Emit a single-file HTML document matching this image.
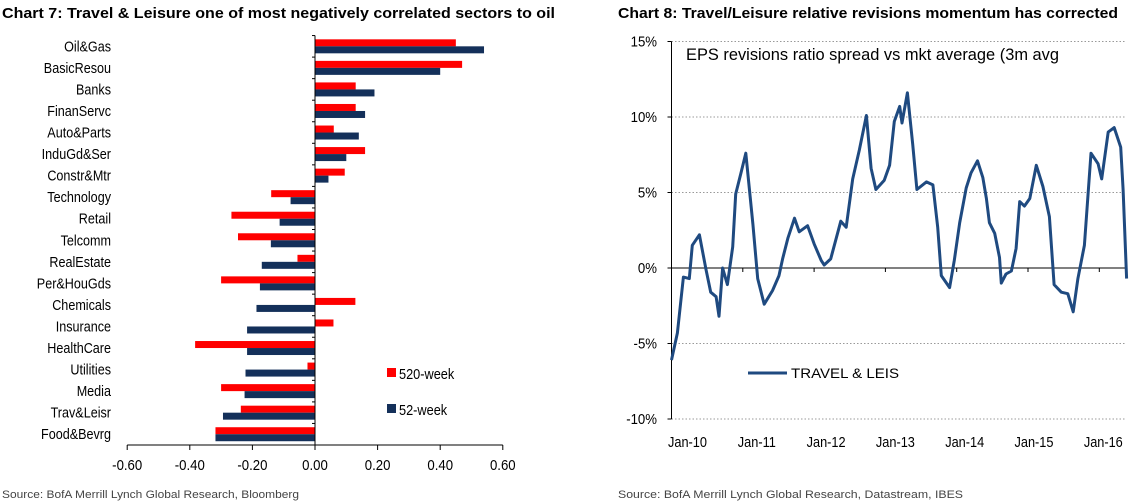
<!DOCTYPE html>
<html><head><meta charset="utf-8"><style>
html,body{margin:0;padding:0;background:#fff;width:1132px;height:503px;overflow:hidden}
svg{display:block;font-family:"Liberation Sans",Arial,sans-serif}
</style></head><body>
<svg id="s" width="1132" height="503" viewBox="0 0 1132 503">
<text x="2" y="18" font-size="15" font-weight="bold" textLength="553" lengthAdjust="spacingAndGlyphs">Chart 7: Travel &amp; Leisure one of most negatively correlated sectors to oil</text>
<text x="618" y="18" font-size="15" font-weight="bold" textLength="500" lengthAdjust="spacingAndGlyphs">Chart 8: Travel/Leisure relative revisions momentum has corrected</text>
<text x="2" y="498" font-size="11" fill="#444" textLength="297" lengthAdjust="spacingAndGlyphs">Source: BofA Merrill Lynch Global Research, Bloomberg</text>
<text x="618" y="498" font-size="11" fill="#444" textLength="345" lengthAdjust="spacingAndGlyphs">Source: BofA Merrill Lynch Global Research, Datastream, IBES</text>
<g id="left"></g>
<g id="right"></g>
</svg>
<script>
const categories=["Oil&Gas","BasicResou","Banks","FinanServc","Auto&Parts","InduGd&Ser","Constr&Mtr","Technology","Retail","Telcomm","RealEstate","Per&HouGds","Chemicals","Insurance","HealthCare","Utilities","Media","Trav&Leisr","Food&Bevrg"];
const week520=[0.45,0.47,0.13,0.13,0.06,0.16,0.095,-0.14,-0.267,-0.246,-0.056,-0.30,0.129,0.059,-0.383,-0.024,-0.30,-0.237,-0.318];
const week52=[0.54,0.40,0.19,0.16,0.14,0.10,0.043,-0.078,-0.113,-0.141,-0.17,-0.176,-0.187,-0.217,-0.217,-0.222,-0.225,-0.294,-0.318];
const xTicks=[-0.6,-0.4,-0.2,0,0.2,0.4,0.6];
const monthIdx=[0,1,2,3,3.5,4.7,5.8,6.6,7.5,8,8.6,9.4,10.3,10.8,11.7,12.5,13.7,14.5,15.6,17,18.1,18.7,19.6,20.7,21.5,22.9,24,25.2,25.7,26.8,28.5,29.4,30.5,31.6,32.8,33.6,34.4,35.8,36.7,37.5,38.4,38.8,39.7,40.6,41.3,42.9,44,44.8,45.4,46.8,47.6,48.5,49.6,50.4,51.5,52.4,53,53.5,54.4,55.2,55.5,56.3,57.2,58,58.6,59.4,60.3,61.4,62.5,63.6,64.4,65.6,66.7,67.6,68.4,69.5,70.6,71.8,72.4,73.5,74.5,75.6,76,76.6];
const travelLeis=[-6.1,-4.3,-0.6,-0.7,1.5,2.2,-0.1,-1.6,-1.9,-3.2,0,-1.1,1.4,4.9,6.3,7.6,2.9,-0.7,-2.4,-1.5,-0.5,0.6,2.0,3.3,2.4,2.8,1.6,0.5,0.2,0.6,3.1,2.7,5.9,7.8,10.1,6.6,5.2,5.8,6.8,9.7,10.7,9.6,11.6,8.2,5.2,5.7,5.5,2.7,-0.5,-1.3,0.5,3.0,5.3,6.3,7.1,6.0,4.6,3.0,2.3,0.7,-1.0,-0.4,-0.2,1.3,4.4,4.1,4.6,6.8,5.4,3.4,-1.1,-1.6,-1.7,-2.9,-0.7,1.5,7.6,6.9,5.9,9.0,9.3,8.0,5.2,-0.7];
const yTicks=[15,10,5,0,-5,-10];
const yearLabels=["Jan-10","Jan-11","Jan-12","Jan-13","Jan-14","Jan-15","Jan-16"];
const NS="http://www.w3.org/2000/svg";
function mk(p,t,a,txt){const e=document.createElementNS(NS,t);for(const k in a)e.setAttribute(k,a[k]);if(txt!=null)e.textContent=txt;p.appendChild(e);return e;}
function ntext(p,x,y,anchor,size,sx,txt){const g=mk(p,'g',{transform:`translate(${x},${y}) scale(${sx},1)`});return mk(g,'text',{x:0,y:0,'font-size':size,'text-anchor':anchor},txt);}
// left chart
const L=document.getElementById('left');
const x0=315,unit=313,band=21.55,axisY=445,plotTop=axisY-categories.length*band;
const xs=v=>x0+v*unit;
categories.forEach((c,i)=>{
 const cy=plotTop+band*(i+0.5);
 const t=ntext(L,111,cy+5,'end',15,0.84,c);
 
 
 const v1=week520[i],v2=week52[i];
 const r=mk(L,'rect',{x:Math.min(xs(0),xs(v1)),y:cy-7,width:Math.abs(xs(v1)-xs(0)),height:7,fill:'#ff0000'});
 
 
 const b=mk(L,'rect',{x:Math.min(xs(0),xs(v2)),y:cy,width:Math.abs(xs(v2)-xs(0)),height:7,fill:'#14305a'});
 
 
 mk(L,'line',{x1:x0-3,x2:x0,y1:plotTop+band*i,y2:plotTop+band*i,stroke:'#000'});
});
mk(L,'line',{x1:x0,x2:x0,y1:plotTop,y2:axisY,stroke:'#000'});
mk(L,'line',{x1:xs(-0.6),x2:xs(0.6),y1:axisY,y2:axisY,stroke:'#000'});
xTicks.forEach(v=>{
 mk(L,'line',{x1:xs(v),x2:xs(v),y1:axisY,y2:axisY+5,stroke:'#000'});
 const t=ntext(L,xs(v),axisY+25,'middle',15,0.88,v.toFixed(2));
 
 
});
const lg1=mk(L,'rect',{x:387,y:368,width:9,height:9,fill:'#ff0000'});


const lt1=ntext(L,399,379,'start',15,0.85,'520-week');


const lg2=mk(L,'rect',{x:387,y:404,width:9,height:9,fill:'#14305a'});


const lt2=ntext(L,399,415,'start',15,0.85,'52-week');


// right chart
const R=document.getElementById('right');
const px0=671.5,pxEnd=1125,perMonth=71.3/12,zeroY=268,perPct=15.1;
const rx=m=>px0+m*perMonth, ry=v=>zeroY-v*perPct;
yTicks.forEach(v=>{
 if(v!==0)mk(R,'line',{x1:px0,x2:pxEnd,y1:ry(v),y2:ry(v),stroke:'#999','stroke-dasharray':'1.5,2'});
 mk(R,'line',{x1:px0-4,x2:px0,y1:ry(v),y2:ry(v),stroke:'#000'});
 const t=ntext(R,657,ry(v)+5,'end',15,0.88,v+'%');
 
 
});
mk(R,'line',{x1:px0,x2:px0,y1:ry(15),y2:ry(-10),stroke:'#000'});
mk(R,'line',{x1:px0,x2:pxEnd,y1:zeroY,y2:zeroY,stroke:'#000'});
yearLabels.forEach((l,i)=>{
 const x=rx(i*12);
 if(i>0)mk(R,'line',{x1:x,x2:x,y1:zeroY,y2:zeroY+4,stroke:'#000'});
 const t=ntext(R,x+16-i*2,447,'middle',15,0.85,l);
 
 
});
const ann=mk(R,'text',{x:686,y:60,'font-size':17,textLength:373,lengthAdjust:'spacingAndGlyphs'},'EPS revisions ratio spread vs mkt average (3m avg');


const path=mk(R,'polyline',{points:monthIdx.map((m,i)=>rx(m).toFixed(1)+','+ry(travelLeis[i]).toFixed(1)).join(' '),fill:'none',stroke:'#1f4a80','stroke-width':3,'stroke-linejoin':'round'});


const ll=mk(R,'line',{x1:748,x2:787,y1:373,y2:373,stroke:'#1f4a80','stroke-width':3});


const lt=mk(R,'text',{x:791,y:378,'font-size':14,textLength:108,lengthAdjust:'spacingAndGlyphs'},'TRAVEL & LEIS');


</script>
</body></html>
